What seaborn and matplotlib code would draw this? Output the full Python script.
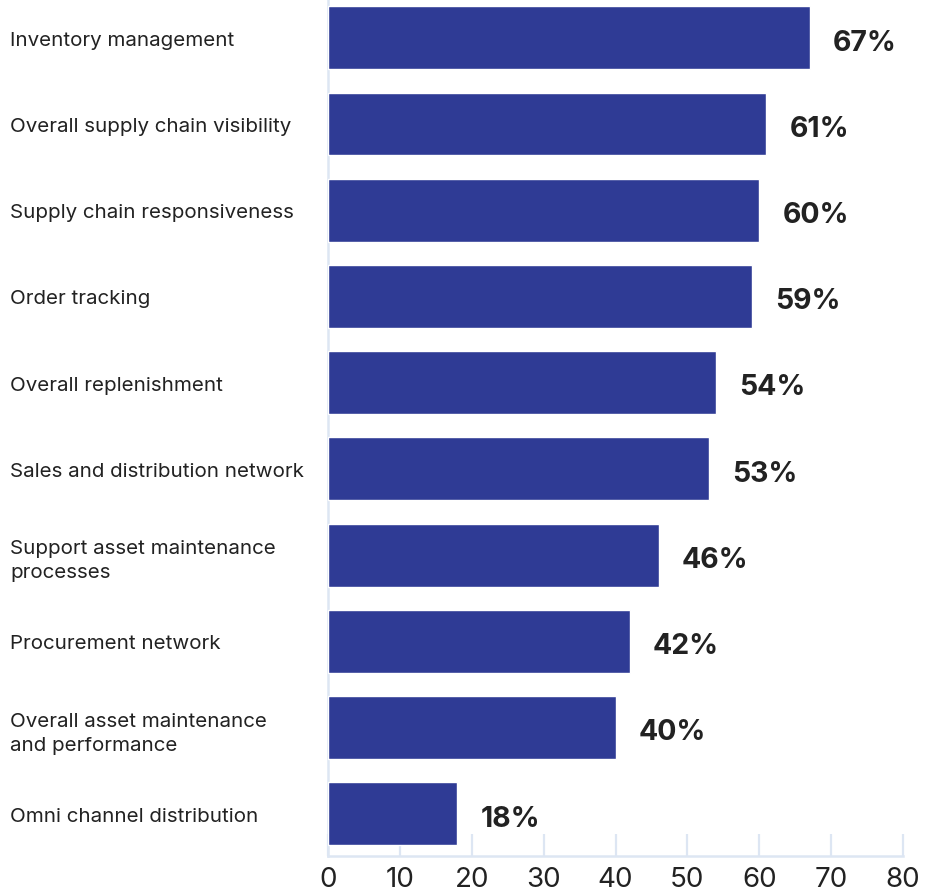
import matplotlib
matplotlib.use("Agg")
import matplotlib.pyplot as plt
import seaborn as sns
import pandas as pd

# Values
categories = [
    "Inventory management",
    "Overall supply chain visibility",
    "Supply chain responsiveness",
    "Order tracking",
    "Overall replenishment",
    "Sales and distribution network",
    "Support asset maintenance\nprocesses",
    "Procurement network",
    "Overall asset maintenance\nand performance",
    "Omni channel distribution",
]
values = [67, 61, 60, 59, 54, 53, 46, 42, 40, 18]
x_ticks = [0, 10, 20, 30, 40, 50, 60, 70, 80]

bar_color = "#2f3b95"
axis_color = "#dde6f3"
text_color = "#222222"

sns.set_theme(style="white")
plt.rcParams["font.family"] = ["Inter", "DejaVu Sans"]

df = pd.DataFrame({"category": categories, "value": values})

fig = plt.figure(figsize=(9.33, 8.95), dpi=100)
ax = fig.add_axes([328 / 933, 1 - 857 / 895, 575 / 933, 857 / 895])

sns.barplot(data=df, x="value", y="category", orient="h", color=bar_color,
            saturation=1, width=0.73, ax=ax, zorder=3)

ax.set_xlim(0, 80)
ax.set_ylim(9.49, -0.45)
ax.set_xticks(x_ticks)
ax.set_xticklabels([str(t) for t in x_ticks], fontsize=20, color=text_color)
ax.set_xlabel("")
ax.set_ylabel("")

# category labels flush left in the margin
ax.set_yticks(range(len(categories)))
ax.set_yticklabels(categories, fontsize=14.8, color=text_color, ha="left",
                   linespacing=1.45)
ax.tick_params(axis="y", left=False, length=0, pad=229)
ax.tick_params(axis="x", bottom=True, direction="in", length=16, width=1.6,
               color=axis_color, pad=7)

for side in ["top", "right"]:
    ax.spines[side].set_visible(False)
for side in ["left", "bottom"]:
    ax.spines[side].set_color(axis_color)
    ax.spines[side].set_linewidth(1.8)

# value labels
for i, v in enumerate(values):
    ax.text(v + 3.2, i + 0.05, f"{v}%", va="center", ha="left",
            fontsize=20.5, fontweight="bold", color=text_color)

fig.savefig("out.png", dpi=100)
